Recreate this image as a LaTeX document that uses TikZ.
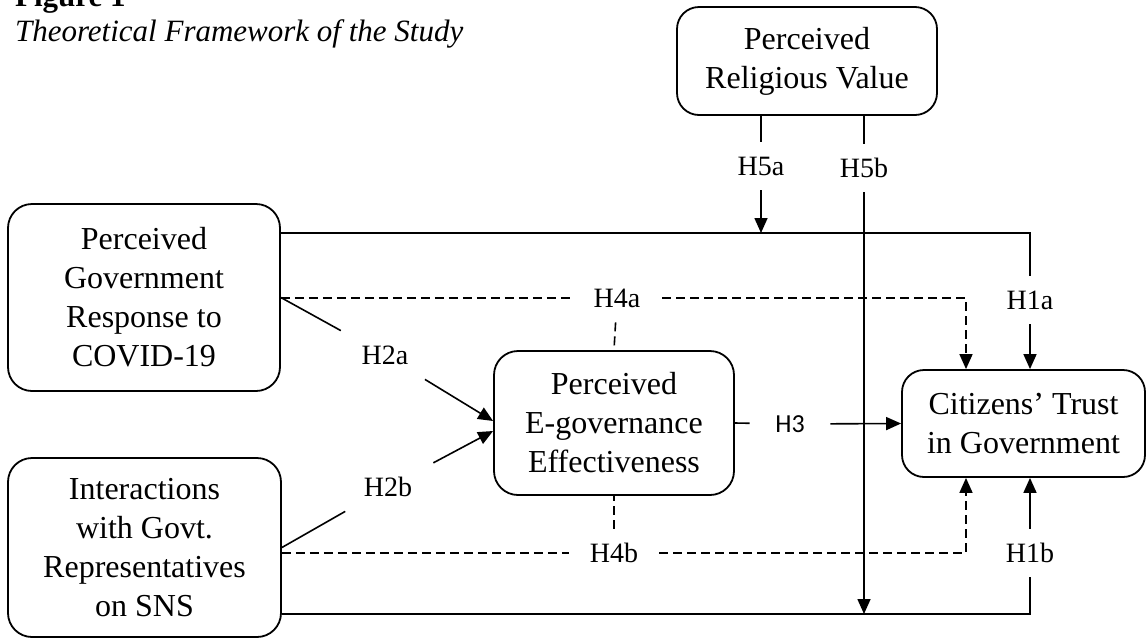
\documentclass[tikz,border=0pt]{standalone}
\usepackage{fontspec}
\setmainfont{Liberation Serif}
\newfontfamily\hfont{Carlito}
\usetikzlibrary{arrows.meta}

\begin{document}
\begin{tikzpicture}[x=0.5pt, y=-0.5pt,
	box/.style={draw, line width=0.9pt, rounded corners=11pt, align=center, inner sep=0pt, font=\fontsize{16}{19.5}\selectfont},
	hyp/.style={inner sep=0pt, minimum width=45pt, minimum height=24pt, font=\fontsize{14}{16}\selectfont},
	link/.style={line width=0.8pt},
	weak/.style={link, dash pattern=on 4.5pt off 2.5pt},
	tip/.style={-{Triangle[length=7.5pt,width=6.5pt]}}]
\useasboundingbox (0,0) rectangle (1147,638);

% caption
\node[anchor=base west, font=\fontsize{15.5}{18}\selectfont\bfseries] (fig) at (8,6) {Figure 1};
\node[anchor=base west, font=\fontsize{15.5}{18}\selectfont\itshape] (title) at (8,41) {Theoretical Framework of the Study};

% constructs
\node[box, minimum width=130pt, minimum height=54pt] (relig) at (807,61) {Perceived\\Religious Value};
\node[box, minimum width=136pt, minimum height=93.5pt, rounded corners=12pt] (gov) at (144,297.5) {Perceived\\Government\\Response to\\COVID-19};
\node[box, minimum width=136.5pt, minimum height=89.5pt, rounded corners=12pt] (inter) at (144.5,547.5) {Interactions\\with Govt.\\Representatives\\on SNS};
\node[box, minimum width=120pt, minimum height=72pt, rounded corners=12pt] (egov) at (614,423) {Perceived\\E-governance\\Effectiveness};
\node[box, minimum width=121.5pt, minimum height=53.5pt] (trust) at (1023.5,423.5) {Citizens’ Trust\\in Government};

% hypotheses
\node[hyp] (h5a) at (761,166) {H5a};
\node[hyp] (h5b) at (864,168) {H5b};
\node[hyp] (h1a) at (1030,300) {H1a};
\node[hyp] (h4a) at (617,298) {H4a};
\node[hyp] (h2a) at (385,355) {H2a};
\node[hyp, minimum width=40pt, font=\hfont\fontsize{13}{15}\selectfont] (h3) at (790,424) {H3};
\node[hyp] (h2b) at (388,487) {H2b};
\node[hyp] (h4b) at (614,553) {H4b};
\node[hyp] (h1b) at (1030,553) {H1b};

\coordinate (h1top) at (1030,233);
\coordinate (h1bot) at (1030,614);
\coordinate (h4top) at (966,298);
\coordinate (h4bot) at (966,553);

% direct effects
\draw[link] (gov.east |- h1top) -- (h1top) -- (h1a);
\draw[link, tip] (h1a) -- (trust.north -| h1a);
\draw[link] (inter.east |- h1bot) -- (h1bot) -- (h1b);
\draw[link, tip] (h1b) -- (trust.south -| h1b);
\draw[link] (gov.east) -- (h2a);
\draw[link, tip] (h2a) -- ([yshift=1pt]egov.west);
\draw[link] (inter.east) -- (h2b);
\draw[link, tip] (h2b) -- ([yshift=-4pt]egov.west);
\draw[link] (egov.east) -- (h3);
\draw[link, tip] (h3) -- (trust.west);

% mediation
\draw[weak] (gov.east |- h4a) -- (h4a);
\draw[weak, tip] (h4a) -- (h4top) -- (trust.north -| h4top);
\draw[weak] (h4a) -- (egov.north);
\draw[weak] (inter.east |- h4b) -- (h4b);
\draw[weak, tip] (h4b) -- (h4bot) -- (trust.south -| h4bot);
\draw[weak] (h4b) -- (egov.south);

% moderation
\draw[link] (relig.south -| h5a) -- (h5a);
\draw[link, tip] (h5a) -- (h5a |- h1top);
\draw[link] (relig.south -| h5b) -- (h5b);
\draw[link, tip] (h5b) -- (h5b |- h1bot);
\end{tikzpicture}
\end{document}
